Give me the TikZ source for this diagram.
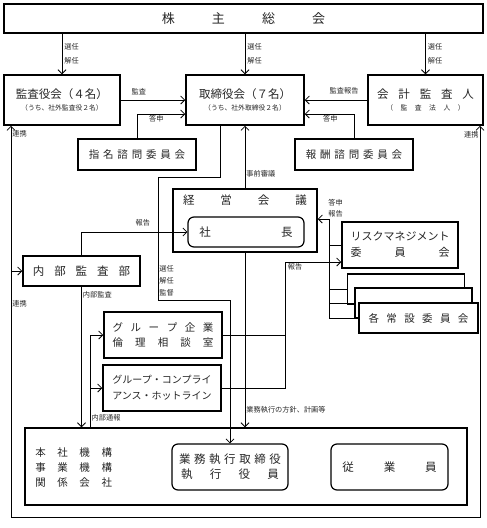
\documentclass[tikz,border=0pt]{standalone}
\usepackage{fontspec}
\setmainfont{Noto Sans CJK JP}
\usetikzlibrary{arrows.meta, positioning}

\newcommand{\jsp}[1]{\hspace{#1em}}
\newcommand{\fXL}{\fontsize{13}{15}\selectfont}
\newcommand{\fL}{\fontsize{11.5}{15}\selectfont}
\newcommand{\fM}{\fontsize{10.5}{15}\selectfont}
\newcommand{\fS}{\fontsize{7.2}{9}\selectfont}
\newcommand{\fSub}{\fontsize{6.8}{9}\selectfont}

\tikzstyle{box} = [draw=black, line width=1.5pt, fill=white, inner sep=0pt, text=black!85]
\tikzstyle{rbox} = [box, line width=1.2pt, rounded corners=6pt]
\tikzstyle{arrow} = [->, >={Straight Barb[length=4pt,width=8pt]}]
\tikzstyle{lbl} = [font=\fS, text=black!85, inner sep=1pt]

\begin{document}
\begin{tikzpicture}[x=1pt, y=-1pt, line width=0.8pt]
\useasboundingbox (0,0) rectangle (487,528);

%--Shareholders--%
\node (kabu) [box, minimum width=479pt, minimum height=29pt, font=\fXL] at (243.5,18.5) {株\jsp{2.85}主\jsp{2.85}総\jsp{2.85}会};

%--Boards--%
\node (kansa) [box, minimum width=116pt, minimum height=50pt, align=center, font=\fL] at (62,100) {監査役会（４名）\\[-3pt]{\fSub （うち、社外監査役２名）}};
\node (torishimari) [box, minimum width=118pt, minimum height=50pt, align=center, font=\fL] at (245,100) {取締役会（７名）\\[-3pt]{\fSub （うち、社外取締役２名）}};
\node (kaikei) [box, minimum width=115pt, minimum height=50pt, align=center, font=\fL] at (425.5,100) {会\jsp{.85}計\jsp{.85}監\jsp{.85}査\jsp{.85}人\\[-3pt]{\fSub （\jsp{1.1}監\jsp{1.1}査\jsp{1.1}法\jsp{1.1}人\jsp{1.1}）}};

%--Advisory committees--%
\node (shimei) [box, minimum width=118pt, minimum height=31pt, font=\fM] at (137,154.5) {指\jsp{.36}名\jsp{.36}諮\jsp{.36}問\jsp{.36}委\jsp{.36}員\jsp{.36}会};
\node (houshu) [box, minimum width=118pt, minimum height=31pt, font=\fM] at (354,154.5) {報\jsp{.36}酬\jsp{.36}諮\jsp{.36}問\jsp{.36}委\jsp{.36}員\jsp{.36}会};

%--Management meeting--%
\node (keiei) [box, minimum width=144pt, minimum height=63pt] at (245,220.5) {};
\node (keieiT) [below=6pt of keiei.north, font=\fL, text=black!85, inner sep=0pt] {経\jsp{2.26}営\jsp{2.26}会\jsp{2.26}議};
\node (shacho) [rbox, minimum width=116pt, minimum height=30pt, font=\fL] at (246,232) {社\jsp{6.1}長};

%--Internal audit--%
\node (naibu) [box, minimum width=117pt, minimum height=30pt, font=\fL] at (81.5,271) {内\jsp{.86}部\jsp{.86}監\jsp{.86}査\jsp{.86}部};

%--Committees--%
\node (risk) [box, minimum width=116pt, minimum height=46pt, align=center, font=\fontsize{11}{16}\selectfont] at (400,245) {リスクマネジメント\\委\jsp{3}員\jsp{3}会};
\node (iinA) [box, minimum width=117pt, minimum height=30pt] at (406,289) {};
\node (iinB) [box, minimum width=117pt, minimum height=30pt] at (413.5,303) {};
\node (iinC) [box, minimum width=119pt, minimum height=30pt, font=\fM] at (418.5,318) {各\jsp{.7}常\jsp{.7}設\jsp{.7}委\jsp{.7}員\jsp{.7}会};

%--Consultation desks--%
\node (rinri) [box, minimum width=118pt, minimum height=46pt, align=center, font=\fM] at (163,335) {グ\jsp{.72}ル\jsp{.72}ー\jsp{.72}プ\jsp{.72}企\jsp{.72}業\\倫\jsp{1.15}理\jsp{1.15}相\jsp{1.15}談\jsp{1.15}室};
\node (hotline) [box, minimum width=118pt, minimum height=46pt, align=center, font=\fontsize{10}{16}\selectfont] at (162,388) {グループ・コンプライ\\アンス・ホットライン};

%--Execution--%
\node (bottom) [box, minimum width=442pt, minimum height=77pt] at (246,466.5) {};
\node (honsha) [anchor=west, align=left, font=\fM, text=black!85, inner sep=0pt] at (35,468) {本\jsp{1.1}社\jsp{1.1}機\jsp{1.1}構\\事\jsp{1.1}業\jsp{1.1}機\jsp{1.1}構\\関\jsp{1.1}係\jsp{1.1}会\jsp{1.1}社};
\node (gyomu) [rbox, minimum width=116pt, minimum height=46pt, align=center, font=\fL] at (230,467) {業\jsp{.31}務\jsp{.31}執\jsp{.31}行\jsp{.31}取\jsp{.31}締\jsp{.31}役\\執\jsp{1.5}行\jsp{1.5}役\jsp{1.5}員};
\node (jugyo) [rbox, minimum width=117pt, minimum height=46pt, font=\fL] at (389.5,467) {従\jsp{2.6}業\jsp{2.6}員};

%--Elections--%
\foreach \n in {kansa, torishimari, kaikei}
	\draw[arrow] (kabu.south -| \n.north) -- node[lbl, right, align=left, xshift=1pt] {選任\\[4.5pt]解任} (\n.north);

%--Audit--%
\draw[arrow] (kansa.east) -- node[lbl, pos=0.28, above, yshift=4pt] {監査} (torishimari.west);
\draw[arrow] (kaikei.west) -- node[lbl, pos=0.37, above, yshift=4pt] {監査報告} (torishimari.east);

%--Advisory reports--%
\draw[arrow] (shimei.north) |- node[lbl, pos=0.7, below] {答申} ([yshift=-14pt]torishimari.west);
\draw[arrow] (houshu.north) |- node[lbl, pos=0.74, below] {答申} ([yshift=-14pt]torishimari.east);

%--Supervision--%
\coordinate (kan1) at (158,177);
\coordinate (kan2) at (158,300);
\draw[arrow] ([xshift=-25pt]torishimari.south) |- (kan1) -- node[lbl, pos=0.84, right, align=left] {選任\\[3pt]解任\\[3pt]監督} (kan2) -| (gyomu.north);

%--Management meeting--%
\draw[arrow] (keiei.north) -- node[lbl, pos=0.23, right] {事前審議} (torishimari.south);
\draw[arrow] (keiei.south) -- node[lbl, pos=0.9, right] {業務執行の方針、計画等} (keiei.south |- bottom.north);

%--Internal audit--%
\draw[arrow] (naibu.north) |- node[lbl, pos=0.79, above, yshift=4pt] {報告} (shacho.west);
\draw[arrow] (naibu.south) -- node[lbl, pos=0.06, right] {内部監査} (naibu.south |- bottom.north);

%--Liaison--%
\coordinate (loopL) at (11,517);
\coordinate (loopR) at (480,517);
\draw[arrow, <->] (kansa.south -| loopL) -- node[lbl, pos=0.02, right] {連携} node[lbl, pos=0.454, right] {連携} (loopL) -- (loopR) -- node[lbl, pos=0.977, left] {連携} (kaikei.south -| loopR);
\draw[arrow] (loopL |- naibu.west) -- (naibu.west);

%--Whistleblowing--%
\coordinate (tsuho) at ([xshift=66pt]bottom.north west);
\draw[arrow] (tsuho) |- node[lbl, pos=0.05, right] {内部通報} (rinri.west);
\draw[arrow] (tsuho |- hotline.west) -- (hotline.west);

%--Reports to committees--%
\coordinate (rep) at (285,262);
\draw[arrow] (rinri.east) -| (rep) -- node[lbl, pos=0.18, below] {報告} (rep -| risk.west);
\draw (hotline.east) -| (rep);

%--Committee reports--%
\coordinate (brk) at (329,219);
\draw[arrow] (iinC.west) -| (brk) -- node[lbl, pos=0, anchor=south west, align=left, xshift=-2pt] {答申\\[2pt]報告} (brk -| keiei.east);
\draw (brk |- risk.west) -- (risk.west);
\draw (brk |- iinA.west) -- (iinA.west);
\draw (brk |- iinB.west) -- (iinB.west);
\end{tikzpicture}
\end{document}
